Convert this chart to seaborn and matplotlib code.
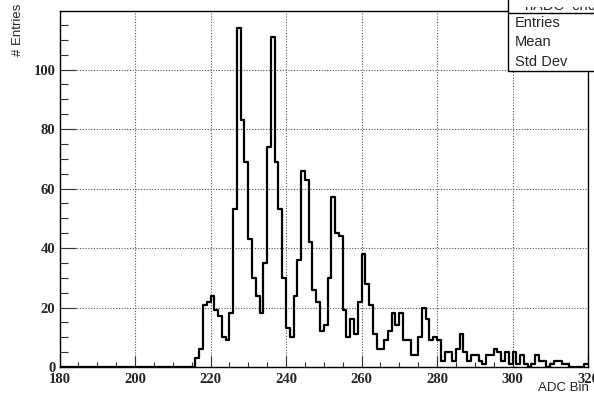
import numpy as np
import pandas as pd
import seaborn as sns
import matplotlib
matplotlib.use("Agg")
import matplotlib.pyplot as plt
from matplotlib.patches import Rectangle
from matplotlib.lines import Line2D
from matplotlib.ticker import MultipleLocator

# ADC spectrum: one entry count per integer ADC bin from 180 to 319
adc_low = list(range(180, 320))
entries = (
    [0] * 36
    + [3, 6, 21, 22, 24, 19, 17, 10, 9, 18]
    + [53, 114, 83, 69, 43, 30, 24, 18, 35, 74]
    + [111, 69, 53, 30, 13, 10, 24, 36, 66, 63]
    + [42, 26, 22, 12, 14, 30, 57, 45, 44, 19]
    + [10, 16, 11, 22, 38, 28, 21, 11, 6, 6]
    + [9, 12, 18, 14, 18, 9, 9, 4, 4, 10]
    + [20, 16, 9, 10, 9, 2, 5, 5, 2, 6]
    + [11, 5, 2, 4, 4, 2, 1, 4, 4, 6]
    + [5, 2, 5, 1, 5, 1, 4, 1, 0, 1]
    + [4, 2, 2, 0, 1, 2, 2, 1, 1, 0]
    + [0, 0, 0, 1]
)
x_ticks = [180, 200, 220, 240, 260, 280, 300, 320]
y_ticks = [0, 20, 40, 60, 80, 100]
stat_labels = ["Entries", "Mean", "Std Dev"]
hist_name = "hADC_ch00_raw"

df = pd.DataFrame({"adc": np.array(adc_low, dtype=float) + 0.5,
                   "entries": np.array(entries, dtype=float)})

sns.set_style("ticks")
plt.rcParams["font.family"] = ["Liberation Sans", "DejaVu Sans"]

W, H = 594, 397
fig = plt.figure(figsize=(W / 100, H / 100), dpi=100)
ax = fig.add_axes([59.5 / W, 1 - 367 / H, (588 - 59.5) / W, (367 - 11) / H])

sns.histplot(
    data=df, x="adc", weights="entries",
    binwidth=1, binrange=(180, 320),
    element="step", fill=False, color="black", linewidth=1.6,
    ax=ax, zorder=3,
)

ax.set_xlim(180, 320)
ax.set_ylim(0, max(entries) * 1.05)
ax.set_xlabel("")
ax.set_ylabel("")

ax.set_xticks(x_ticks)
ax.set_yticks(y_ticks)
ax.xaxis.set_minor_locator(MultipleLocator(5))
ax.yaxis.set_minor_locator(MultipleLocator(5))

tick_font = dict(family="Liberation Serif", weight="bold", size=10.5)
ax.set_xticklabels([str(v) for v in x_ticks], fontdict=tick_font)
ax.set_yticklabels([str(v) for v in y_ticks], fontdict=tick_font)

ax.tick_params(axis="x", which="major", direction="in", length=7.7, width=0.8,
               color="#333333", pad=4)
ax.tick_params(axis="x", which="minor", direction="in", length=3.8, width=0.8,
               color="#333333")
ax.tick_params(axis="y", which="major", direction="in", length=11.4, width=0.8,
               color="#333333", pad=3)
ax.tick_params(axis="y", which="minor", direction="in", length=5.7, width=0.8,
               color="#333333")
ax.tick_params(top=False, right=False, which="both")

for s in ax.spines.values():
    s.set_color("black")
    s.set_linewidth(1.0)
    s.set_visible(True)

ax.set_axisbelow(True)
ax.grid(True, which="major", color="#555555", linestyle=(0, (1, 1.5)), linewidth=0.8)

# axis titles, ROOT-style: aligned to the end of each axis
fig.text(589 / W, 1 - 388 / H, "ADC Bin", ha="right", va="center",
         fontsize=9.5, family="Liberation Sans")
fig.text(18 / W, 1 - 4 / H, "# Entries", ha="center", va="top", rotation=90,
         fontsize=9.5, family="Liberation Sans")

# statistics box in the upper right corner (runs past the canvas edges)
bx0, by_bottom = 508, 71
box = Rectangle((bx0 / W, 1 - by_bottom / H), (W + 20 - bx0) / W, (by_bottom + 20) / H,
                transform=fig.transFigure, facecolor="white", edgecolor="black",
                linewidth=1.0, zorder=10)
fig.add_artist(box)
fig.add_artist(Line2D([bx0 / W, 1.0], [1 - 13 / H, 1 - 13 / H],
                      transform=fig.transFigure, color="black", linewidth=1.0, zorder=11))

# histogram name in the box header, only its lowest edge falls on the canvas
name = fig.text(525 / W, 1 - 9.5 / H, hist_name, ha="left", va="baseline",
                fontsize=10.5, family="Liberation Sans", zorder=12)
header_clip = Rectangle((bx0 / W, 1 - 11 / H), (W - bx0) / W, 4.5 / H,
                        transform=fig.transFigure, facecolor="none", edgecolor="none")
fig.add_artist(header_clip)
name.set_clip_path(header_clip)

for i, lab in enumerate(stat_labels):
    fig.text(515 / W, 1 - (23 + 19.5 * i) / H, lab, ha="left", va="center",
             fontsize=10.5, family="Liberation Sans", zorder=12)

fig.savefig("out.png", dpi=100, facecolor="white")
